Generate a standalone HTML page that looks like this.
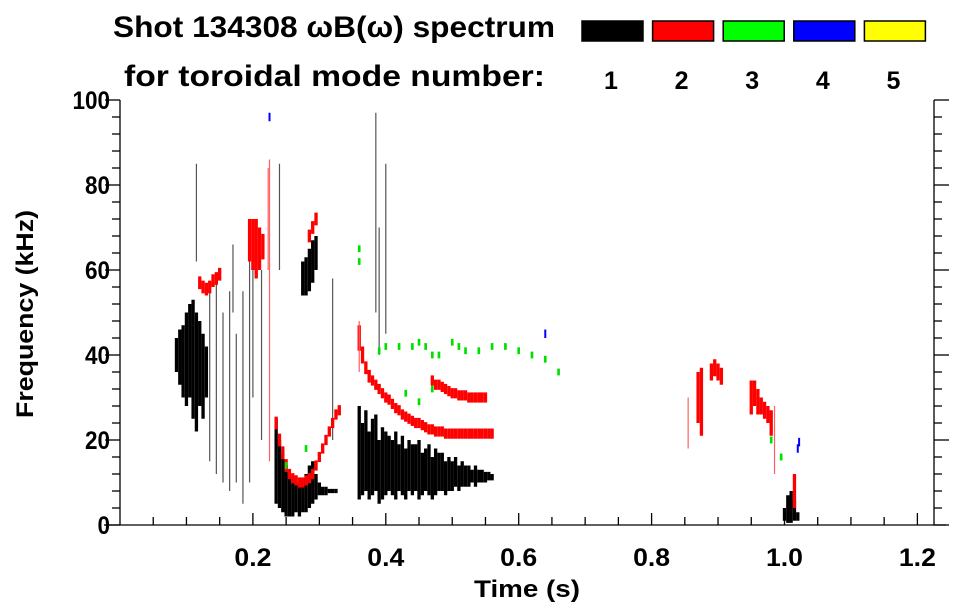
<!DOCTYPE html>
<html><head><meta charset="utf-8"><style>
html,body{margin:0;padding:0;background:#fff;}
svg{display:block;font-family:"Liberation Sans",sans-serif;font-weight:bold;}
</style></head><body>
<svg id="chart" width="963" height="615" viewBox="0 0 963 615" xmlns="http://www.w3.org/2000/svg">
<g>
<text x="113" y="37" font-size="30" textLength="442" lengthAdjust="spacingAndGlyphs">Shot 134308 ωB(ω) spectrum</text>
<text x="124" y="86" font-size="30" textLength="421" lengthAdjust="spacingAndGlyphs">for toroidal mode number:</text>
</g>
<g id="legend"></g>
<g id="marks"></g>
<g id="axes"></g>
<text x="527" y="597" font-size="24" text-anchor="middle" textLength="106" lengthAdjust="spacingAndGlyphs">Time (s)</text>
<text transform="translate(33,314) rotate(-90)" font-size="24" text-anchor="middle" textLength="208" lengthAdjust="spacingAndGlyphs">Frequency (kHz)</text>
</svg>
<script>
// ---- data ----
const modeLabels = ["1","2","3","4","5"];
const modeColors = ["#000000","#ff0000","#00ff00","#0000ff","#ffff00"];
const xTicks = [0.2,0.4,0.6,0.8,1.0,1.2];
const xTickLabels = ["0.2","0.4","0.6","0.8","1.0","1.2"];
const yTicks = [0,20,40,60,80,100];
const yTickLabels = ["0","20","40","60","80","100"];

// mode 1 dense columns
const m1T  = [0.085,0.09,0.095,0.10,0.105,0.11,0.115,0.12,0.125,0.13,
  0.235,0.24,0.245,0.25,0.255,0.26,0.265,0.27,0.275,0.28,0.285,0.29,0.295,0.30,
  0.305,0.31,0.315,0.32,0.325,
  0.275,0.28,0.285,0.29,0.295,
  0.36,0.365,0.37,0.375,0.38,0.385,0.39,0.395,0.40,0.405,0.41,0.415,0.42,0.425,0.43,0.435,0.44,0.445,0.45,0.455,0.46,0.465,0.47,0.475,0.48,0.485,0.49,0.495,0.50,0.505,0.51,0.515,0.52,0.525,0.53,0.535,0.54,0.545,0.55,0.555,0.56,
  1.0,1.005,1.01,1.015,1.02];
const m1Lo = [36,33,30,28,30,25,22,28,25,30,
  5,4,3,2,2,2,3,2,3,3,4,5,6,7,
  7,7,7.5,7.5,7.5,
  54,54,55,57,60,
  6,7,8,6,7,8,5,6,7,8,7,6,8,7,6,8,7,8,6,7,8,7,6,7,8,8,7,8,8,9,8,9,9,9,10,9,10,10,10,10.5,10.5,
  1,0.5,0.5,1,1];
const m1Hi = [44,46,47,50,52,53,50,48,45,42,
  25,20,17,14,12,11,10,10,11,12,14,15,12,10,
  9,9,8.5,8.5,8.5,
  62,63,65,67,68,
  28,24,27,22,25,26,20,23,22,21,20,22,19,21,18,20,19,19,20,17,18,19,16,18,17,17,15,16,15,16,14,15,14,14,13,14,13,13,12.5,12.5,12,
  4,7,8,6,3];
// mode 1 thin streaks
const s1T  = [0.135,0.145,0.155,0.165,0.175,0.185,0.195,0.2,0.213,0.24,0.32,0.385,0.40,0.39,0.17,0.115];
const s1Lo = [15,12,10,8,10,5,10,30,20,60,20,50,45,40,50,62];
const s1Hi = [55,58,50,55,45,55,62,70,60,85,58,97,85,70,66,85];

// mode 2
const m2T  = [0.12,0.125,0.13,0.135,0.14,0.145,0.15,
  0.195,0.20,0.205,0.21,0.215,
  0.235,0.24,0.245,0.25,0.255,0.26,0.265,0.27,0.275,0.28,0.285,0.29,0.295,0.30,0.305,0.31,0.315,0.32,0.325,0.33,
  0.285,0.29,0.295,
  0.36,0.365,0.37,0.375,0.38,0.385,0.39,0.395,0.40,0.405,0.41,0.415,0.42,0.425,0.43,0.435,0.44,0.445,0.45,0.455,0.46,0.465,0.47,0.475,0.48,0.485,0.49,0.495,0.50,0.505,0.51,0.515,0.52,0.525,0.53,0.535,0.54,0.545,0.55,0.555,0.56,
  0.47,0.475,0.48,0.485,0.49,0.495,0.50,0.505,0.51,0.515,0.52,0.525,0.53,0.535,0.54,0.545,0.55,
  0.87,0.875,0.89,0.895,0.90,0.905,
  0.95,0.955,0.96,0.965,0.97,0.975,0.98,1.015];
const m2C  = [57,56,55.5,56,57.5,58,59,
  67,66,65,65,65.5,
  24,20,17,14,12,11,10.5,10,10,10.5,11,12,14,16,18,20,22,24,26,27,
  68,70,72,
  44,40,37,35,34,33,32,31,30,29.5,28.5,27.5,27,26,25.5,25,24.5,24,24,23.5,23,22.5,22.5,22,22,22,21.5,21.5,21.5,21.5,21.5,21.5,21.5,21.5,21.5,21.5,21.5,21.5,21.5,21.5,21.5,
  34,33,33,32.5,32,31.5,31,31,30.5,30.5,30.5,30,30,30,30,30,30,
  30,29,36,37,36,35,
  30,31,29,28,27,26,24,8];
const m2H  = [1.5,1.5,1.5,1.5,1.5,1.5,1.5,
  5,6,7,5,3,
  1.5,1.5,1.5,1.5,1.2,1.2,1.2,1.2,1.2,1.2,1.2,1.2,1.2,1.2,1.2,1.2,1.2,1.2,1.2,1.2,
  1.5,1.5,1.5,
  3,2,1.5,1.5,1.2,1.2,1.2,1.2,1.2,1.2,1.2,1.2,1.2,1.2,1.2,1.2,1.2,1.2,1.2,1.2,1.2,1.2,1.2,1.2,1.2,1.2,1.2,1.2,1.2,1.2,1.2,1.2,1.2,1.2,1.2,1.2,1.2,1.2,1.2,1.2,1.2,
  1.2,1.2,1.2,1.2,1.2,1.2,1.2,1.2,1.2,1.2,1.2,1.2,1.2,1.2,1.2,1.2,1.2,
  6,8,2,2,2,2,
  4,3,3,2,2,2,3,4];
// mode 2 thin streaks
const s2T  = [0.225,0.223,0.855,0.985,0.36];
const s2Lo = [15,60,18,12,36];
const s2Hi = [86,84,30,28,48];

// mode 3 points
const m3T = [0.36,0.36,0.39,0.40,0.42,0.44,0.45,0.46,0.47,0.48,0.50,0.51,0.52,0.54,0.56,0.58,0.60,0.62,0.64,0.66,0.43,0.45,0.47,0.28,0.25,0.995,0.98];
const m3F = [62,65,41,42,42,42,43,42,40,40,43,42,41,41,42,42,41,40,39,36,31,29,32,18,14,16,20];
// mode 4 points
const m4T = [1.02,1.022,0.225,0.64];
const m4F = [18,19.5,96,45];

// ---- scales ----
const X0=120, X1=934, Y0=525, Y1=100;
const x = t => X0 + t*(X1-X0)/1.225;
const y = f => Y0 - f*(Y0-Y1)/100;
const NS="http://www.w3.org/2000/svg";
function mk(tag, attrs, parent){
  const e=document.createElementNS(NS,tag);
  for(const k in attrs) e.setAttribute(k,attrs[k]);
  parent.appendChild(e); return e;
}
const marks=document.getElementById('marks');
const axes=document.getElementById('axes');
const legend=document.getElementById('legend');

// legend
modeLabels.forEach((lab,i)=>{
  const bx=582+i*70.6;
  const r=mk('rect',{x:bx,y:21,width:61,height:20,fill:modeColors[i],stroke:'#000','stroke-width':1.5},legend);
  
  
  const t=mk('text',{x:bx+29,y:89,'font-size':25,'text-anchor':'middle'},legend);
  t.textContent=lab;
  
  
});

function cols(T,Lo,Hi,color,dt,name){
  for(let i=0;i<T.length;i++){
    const x0=x(T[i]-dt/2), x1=x(T[i]+dt/2);
    const r=mk('rect',{x:x0,y:y(Hi[i]),width:Math.max(1,x1-x0),height:Math.max(1,y(Lo[i])-y(Hi[i])),fill:color},marks);
    
    
  }
}
cols(m1T,m1Lo,m1Hi,'#000',0.005,'mode1-cell');
cols(s1T,s1Lo,s1Hi,'#555',0.0018,'mode1-streak');
cols(m2T,m2C.map((c,i)=>c-m2H[i]),m2C.map((c,i)=>c+m2H[i]),'#ff0000',0.005,'mode2-cell');
cols(s2T,s2Lo,s2Hi,'#ff6060',0.0018,'mode2-streak');
cols(m3T,m3F.map(f=>f-0.8),m3F.map(f=>f+0.8),'#00e000',0.004,'mode3-cell');
cols(m4T,m4F.map(f=>f-1),m4F.map(f=>f+1),'#0000ff',0.003,'mode4-cell');

// axes
function line(x1,y1,x2,y2,name){
  const l=mk('line',{x1,y1,x2,y2,stroke:'#000','stroke-width':1.3},axes);
  
  
}
line(X0,Y1,X0,Y0,'y-axis-left');
line(X1,Y1,X1,Y0,'y-axis-right');
line(104,Y0,946,Y0,'x-axis');
for(let f=0;f<=100;f+=4){
  const major=f%20===0;
  const len=major?15:8;
  line(X0-len,y(f),X0,y(f),'y-tick');
  line(X1,y(f),X1+len,y(f),'y-tick-right');
}
yTicks.forEach((v,i)=>{
  const t=mk('text',{x:110,y:y(v)+9,'font-size':25,'text-anchor':'end',transform:`translate(${110*0.1},0) scale(0.9,1)`},axes);
  t.setAttribute('x',110/0.9-110*0.1/0.9);
  t.textContent=yTickLabels[i];
  
  
});
for(let k=1;k<=24;k++){
  const t=k*0.05, major=k%4===0;
  line(x(t),Y0,x(t),Y0-(major?12:8),'x-tick');
}
xTicks.forEach((v,i)=>{
  const t=mk('text',{x:x(v),y:566,'font-size':25,'text-anchor':'middle',textLength:37,lengthAdjust:'spacingAndGlyphs'},axes);
  t.textContent=xTickLabels[i];
  
  
});
</script>
</body></html>
